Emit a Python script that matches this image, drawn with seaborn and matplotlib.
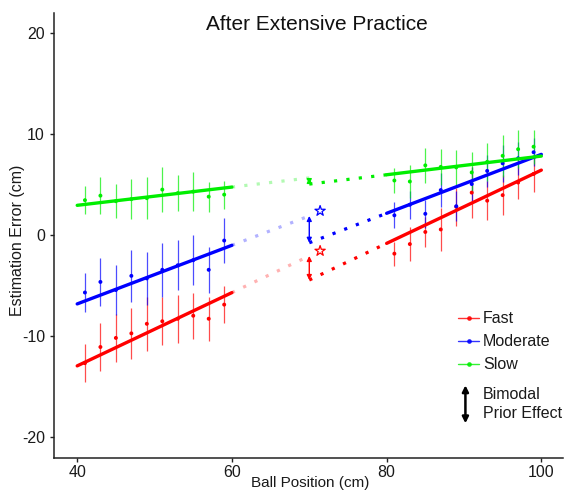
import numpy as np
import pandas as pd
import matplotlib
matplotlib.use("Agg")
import matplotlib.pyplot as plt
from matplotlib.lines import Line2D
from matplotlib.legend_handler import HandlerBase
from matplotlib.patches import FancyArrowPatch
import seaborn as sns

# ---------------- data ----------------
speeds = ["Fast", "Moderate", "Slow"]

pos_near = [41, 43, 45, 47, 49, 51, 53, 55, 57, 59]
pos_far = [81, 83, 85, 87, 89, 91, 93, 95, 97, 99]

fast_mean_near = [-12.7, -11.1, -10.2, -9.75, -8.8, -8.55, -8.3, -8.0, -8.3, -6.9]
fast_err_near = [1.85, 2.4, 2.4, 2.5, 2.7, 2.4, 2.4, 2.3, 2.2, 1.8]
fast_mean_far = [-1.85, -0.9, 0.3, 0.55, 2.8, 4.2, 3.4, 3.95, 5.2, 6.05]
fast_err_far = [1.2, 1.65, 1.5, 2.1, 1.9, 2.5, 1.95, 1.95, 1.6, 1.8]

moderate_mean_near = [-5.7, -4.65, -5.45, -4.05, -4.3, -3.45, -3.0, -2.5, -3.45, -0.55]
moderate_err_near = [1.95, 2.4, 2.5, 2.6, 2.6, 2.7, 2.5, 2.5, 2.3, 2.2]
moderate_mean_far = [1.95, 3.0, 2.1, 4.45, 2.85, 5.05, 6.35, 7.1, 7.6, 8.2]
moderate_err_far = [1.3, 1.4, 1.4, 1.7, 1.5, 1.65, 1.6, 1.8, 1.65, 1.4]

slow_mean_near = [3.45, 3.9, 3.35, 3.55, 3.65, 4.5, 4.15, 4.3, 3.8, 4.0]
slow_err_near = [1.4, 1.8, 1.7, 2.0, 2.1, 2.2, 1.8, 1.9, 1.5, 1.4]
slow_mean_far = [5.4, 5.3, 6.9, 6.75, 6.7, 6.2, 7.25, 7.85, 8.5, 8.75]
slow_err_far = [1.25, 1.65, 1.7, 1.75, 1.75, 2.0, 1.9, 2.1, 1.9, 1.7]

# fitted regression lines, evaluated at the ends of each trained range
fit_x_near = [40, 60]
fit_x_far = [80, 100]
fast_fit_near = [-12.97, -5.71]
fast_fit_far = [-0.83, 6.43]
moderate_fit_near = [-6.83, -1.02]
moderate_fit_far = [2.15, 7.99]
slow_fit_near = [2.94, 4.75]
slow_fit_far = [5.97, 7.82]

prior_x = 70                      # untrained position where the two fits are compared
significant = [True, True, False]  # bimodal prior effect significant per speed

# ---------------- tables ----------------
means = {
    "Fast": (fast_mean_near, fast_err_near, fast_mean_far, fast_err_far),
    "Moderate": (moderate_mean_near, moderate_err_near, moderate_mean_far, moderate_err_far),
    "Slow": (slow_mean_near, slow_err_near, slow_mean_far, slow_err_far),
}
fits = {
    "Fast": (fast_fit_near, fast_fit_far),
    "Moderate": (moderate_fit_near, moderate_fit_far),
    "Slow": (slow_fit_near, slow_fit_far),
}

rows = []
for s in speeds:
    mn, en, mf, ef = means[s]
    for p, m, e in zip(pos_near, mn, en):
        rows.append((s, p, m, e))
    for p, m, e in zip(pos_far, mf, ef):
        rows.append((s, p, m, e))
points = pd.DataFrame(rows, columns=["speed", "pos", "mean", "err"])

fit_rows = []
for s in speeds:
    near, far = fits[s]
    for p, v in zip(fit_x_near, near):
        fit_rows.append((s, "near", p, v))
    for p, v in zip(fit_x_far, far):
        fit_rows.append((s, "far", p, v))
fit_df = pd.DataFrame(fit_rows, columns=["speed", "segment", "pos", "value"])


def line_at(xs, ys, x):
    slope = (ys[1] - ys[0]) / (xs[1] - xs[0])
    return ys[0] + slope * (x - xs[0])


# ---------------- style ----------------
sns.set_theme(style="ticks")
plt.rcParams["font.family"] = ["Liberation Sans", "DejaVu Sans"]
plt.rcParams["axes.unicode_minus"] = False
palette = {"Fast": "#FF0000", "Moderate": "#0000FF", "Slow": "#00EE00"}
ink = "#222222"

fig = plt.figure(figsize=(5.64, 4.91), dpi=100)
ax = fig.add_axes([54 / 564, 33 / 491, 509 / 564, 445 / 491])

# error bars
for s in speeds:
    d = points[points.speed == s]
    ax.errorbar(d["pos"], d["mean"], yerr=d["err"], fmt="none",
                ecolor=palette[s], elinewidth=0.9, alpha=0.7, capsize=0, zorder=2)

# means
sns.scatterplot(data=points, x="pos", y="mean", hue="speed", palette=palette,
                marker="o", s=8, linewidth=0, edgecolor="none", legend=False,
                ax=ax, zorder=3)

# fitted lines
sns.lineplot(data=fit_df, x="pos", y="value", hue="speed", units="segment",
             estimator=None, palette=palette, linewidth=2.4, legend=False,
             ax=ax, zorder=4)

# extrapolations towards the untrained position and the prior effect arrows
for s, sig in zip(speeds, significant):
    near, far = fits[s]
    c = palette[s]
    y_near = line_at(fit_x_near, near, prior_x)
    y_far = line_at(fit_x_far, far, prior_x)
    ax.plot([fit_x_near[1], prior_x], [near[1], y_near], color=c, lw=2.3,
            linestyle=(0, (1, 2.9)), alpha=0.3, zorder=3)
    ax.plot([prior_x, fit_x_far[0]], [y_far, far[0]], color=c, lw=2.3,
            linestyle=(0, (1, 2.9)), zorder=3)
    ax.annotate("", xy=(prior_x, y_far), xytext=(prior_x, y_near),
                arrowprops=dict(arrowstyle="<|-|>", color=c, lw=1.0,
                                mutation_scale=7, shrinkA=0, shrinkB=0),
                zorder=5)
    if sig:
        ax.scatter([prior_x + 1.4], [y_near + 0.5], marker="*", s=60,
                   facecolors="none", edgecolors=c, linewidths=0.9, zorder=5)

# axes
ax.set_xlim(37, 102.8)
ax.set_ylim(-22.1, 22)
ax.set_xticks([40, 60, 80, 100])
ax.set_yticks([-20, -10, 0, 10, 20])
ax.tick_params(axis="both", length=3, width=1, colors=ink, labelsize=11.5,
               labelcolor="#1a1a1a")
ax.tick_params(axis="x", pad=2)
ax.tick_params(axis="y", pad=3.5)
for side in ("top", "right"):
    ax.spines[side].set_visible(False)
for side in ("left", "bottom"):
    ax.spines[side].set_color(ink)
    ax.spines[side].set_linewidth(1.1)

ax.set_xlabel("Ball Position (cm)", fontsize=11, color="#1a1a1a")
ax.set_ylabel("Estimation Error (cm)", fontsize=11.5, color="#1a1a1a")
ax.xaxis.set_label_coords(0.503, -0.04)
ax.yaxis.set_label_coords(-0.057, 0.49)

ax.text(0.517, 0.975, "After Extensive Practice", transform=ax.transAxes,
        ha="center", va="center", fontsize=15, color="#111111")

# legends
speed_handles = [Line2D([], [], color=palette[s], lw=1.0, marker="o",
                        markersize=2.4, alpha=0.8) for s in speeds]
leg1 = ax.legend(speed_handles, speeds, loc="upper left",
                 bbox_to_anchor=(0.794, 0.33), frameon=False, fontsize=11.5,
                 handlelength=1.3, handletextpad=0.25, labelspacing=0.5,
                 borderpad=0, borderaxespad=0)
for t in leg1.get_texts():
    t.set_color("#1a1a1a")
ax.add_artist(leg1)


class HandlerPriorArrow(HandlerBase):
    def create_artists(self, legend, orig_handle, xdescent, ydescent,
                       width, height, fontsize, trans):
        xc = -xdescent + width * 0.35
        yc = -ydescent + height / 2
        arr = FancyArrowPatch((xc, yc - 1.7 * height), (xc, yc + 1.7 * height),
                              arrowstyle="<|-|>", mutation_scale=9, lw=1.8,
                              color="black", shrinkA=0, shrinkB=0,
                              transform=trans)
        return [arr]


prior_handle = Line2D([], [])
leg2 = ax.legend([prior_handle], ["Bimodal\nPrior Effect"], loc="upper left",
                 bbox_to_anchor=(0.794, 0.16), frameon=False, fontsize=11.5,
                 handlelength=1.3, handletextpad=0.25, borderpad=0,
                 borderaxespad=0,
                 handler_map={Line2D: HandlerPriorArrow()})
for t in leg2.get_texts():
    t.set_color("#1a1a1a")
    t.set_linespacing(1.35)

fig.savefig("out.png", dpi=100)
